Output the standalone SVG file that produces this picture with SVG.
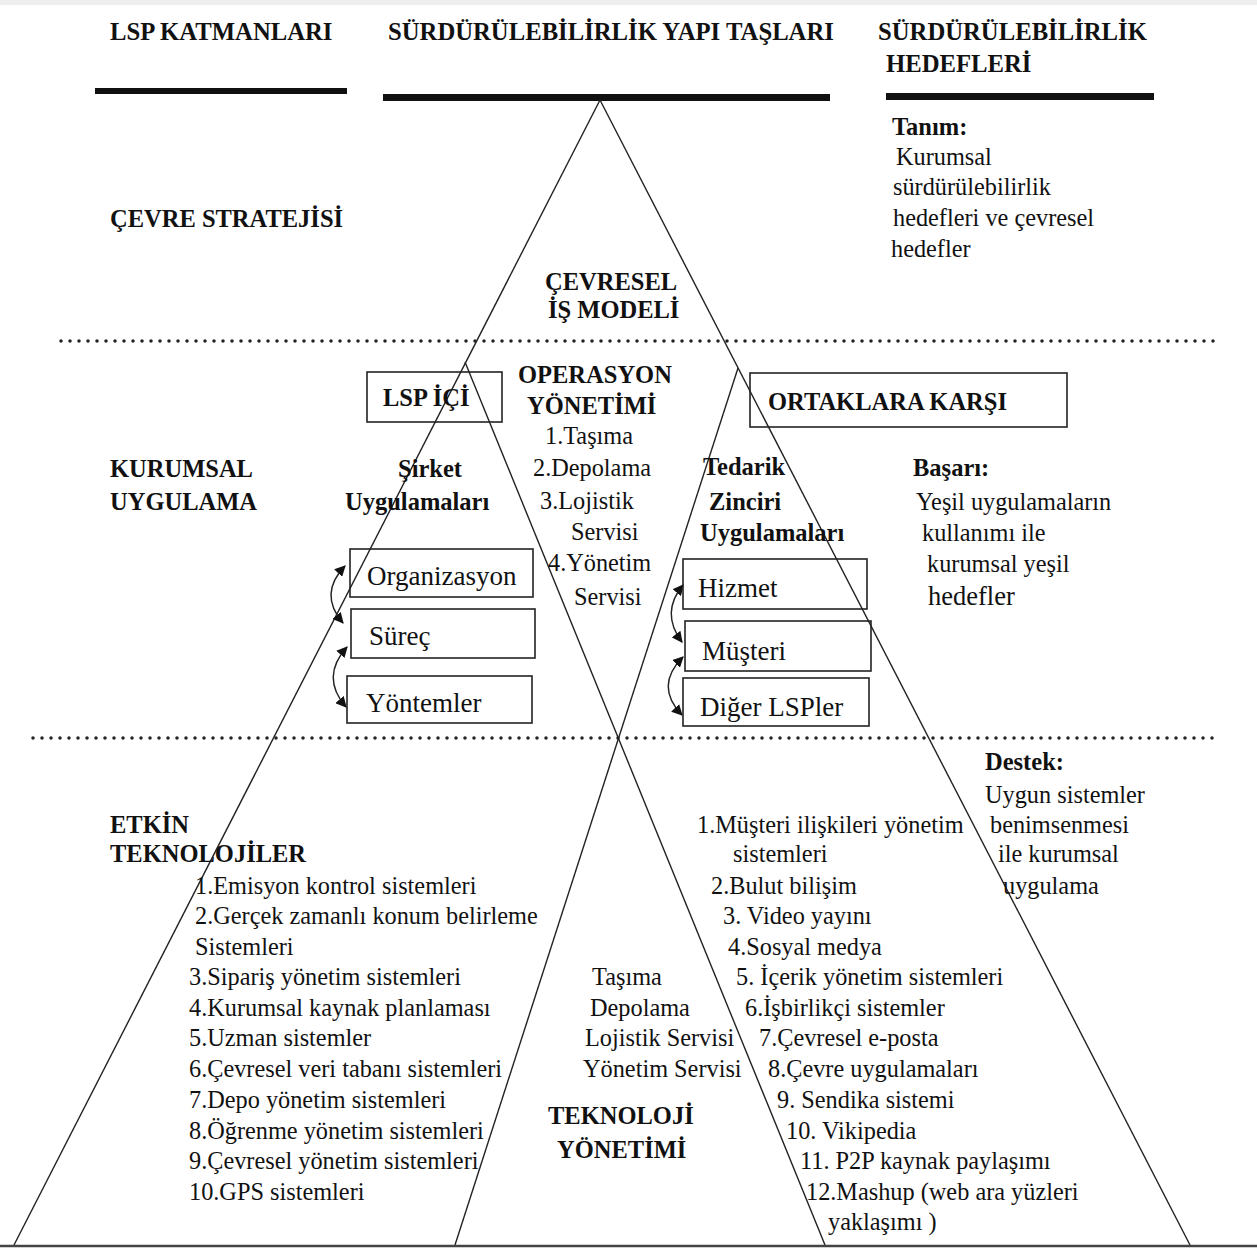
<svg xmlns="http://www.w3.org/2000/svg" width="1257" height="1249" viewBox="0 0 1257 1249">
  <style>
    text { font-family: "Liberation Serif", "Times New Roman", serif; fill: #111; }
    .h { font-size: 24.7px; font-weight: bold; }
    .b { font-size: 24.5px; font-weight: bold; }
    .t { font-size: 24.3px; }
    .bx { font-size: 27px; }
    .edge { stroke: #222; stroke-width: 1.4; fill: none; }
    .box { stroke: #222; stroke-width: 1.6; fill: none; }
    .bar { fill: #111; }
    .dots { stroke: #222; stroke-width: 3.5; stroke-linecap: round; stroke-dasharray: 0 9; fill: none; }
    .arc { stroke: #222; stroke-width: 1.4; fill: none; marker-start: url(#head); marker-end: url(#head); }
  </style>
  <defs>
    <marker id="head" viewBox="0 0 10 10" refX="9" refY="5" markerWidth="11" markerHeight="11" markerUnits="userSpaceOnUse" orient="auto-start-reverse">
      <path d="M0,0 L10,5 L0,10 z" fill="#111"/>
    </marker>
  </defs>

  <rect x="0" y="0" width="1257" height="1249" fill="#fff"/>
  <rect x="0" y="0" width="1257" height="5" fill="#eee"/>

  <!-- column headings -->
  <g id="headings">
    <text class="h" x="110" y="40">LSP KATMANLARI</text>
    <text class="h" x="388" y="40">SÜRDÜRÜLEBİLİRLİK YAPI TAŞLARI</text>
    <text class="h" x="878" y="40">SÜRDÜRÜLEBİLİRLİK</text>
    <text class="h" x="886" y="72">HEDEFLERİ</text>
    <rect class="bar" x="95" y="88" width="252" height="6"/>
    <rect class="bar" x="383" y="94" width="447" height="7"/>
    <rect class="bar" x="886" y="93" width="268" height="7"/>
  </g>

  <!-- layer separators, pyramid edges and the two-way arrows -->
  <g id="connectors">
    <line class="dots" x1="61" y1="341" x2="1218" y2="341"/>
    <line class="dots" x1="33" y1="738" x2="1218" y2="738"/>
    <line class="edge" x1="600" y1="100" x2="14" y2="1245"/>
    <line class="edge" x1="600" y1="100" x2="1190" y2="1245"/>
    <line class="edge" x1="465" y1="362" x2="825" y2="1245"/>
    <line class="edge" x1="738" y1="368" x2="455" y2="1245"/>
    <line x1="0" y1="1246" x2="1257" y2="1246" stroke="#444" stroke-width="2.5"/>
    <path class="arc" d="M343,623 Q318,594 345,566"/>
    <path class="arc" d="M346,707 Q320,677 347,647"/>
    <path class="arc" d="M682,642 Q660,613 683,585"/>
    <path class="arc" d="M682,715 Q654,686 683,657"/>
  </g>

  <!-- strategy layer -->
  <g id="cevre-stratejisi">
    <text class="b" x="110" y="227">ÇEVRE STRATEJİSİ</text>
  </g>
  <g id="cevresel-is-modeli">
    <text class="b" x="545" y="290">ÇEVRESEL</text>
    <text class="b" x="548" y="318">İŞ MODELİ</text>
  </g>
  <g id="tanim">
    <text class="b" x="892" y="135">Tanım:</text>
    <text class="t" x="896" y="165">Kurumsal</text>
    <text class="t" x="893" y="195">sürdürülebilirlik</text>
    <text class="t" x="893" y="226">hedefleri ve çevresel</text>
    <text class="t" x="891" y="257">hedefler</text>
  </g>

  <!-- corporate application layer -->
  <g id="kurumsal-uygulama">
    <text class="b" x="110" y="477">KURUMSAL</text>
    <text class="b" x="110" y="510">UYGULAMA</text>
  </g>
  <g id="lsp-ici">
    <rect class="box" x="367" y="372" width="135" height="50"/>
    <text class="b" x="383" y="406">LSP İÇİ</text>
  </g>
  <g id="operasyon-yonetimi">
    <text class="b" x="518" y="383">OPERASYON</text>
    <text class="b" x="527" y="414">YÖNETİMİ</text>
    <text class="t" x="545" y="444">1.Taşıma</text>
    <text class="t" x="533" y="476">2.Depolama</text>
    <text class="t" x="540" y="509">3.Lojistik</text>
    <text class="t" x="571" y="540">Servisi</text>
    <text class="t" x="548" y="571">4.Yönetim</text>
    <text class="t" x="574" y="605">Servisi</text>
  </g>
  <g id="ortaklara-karsi">
    <rect class="box" x="750" y="373" width="317" height="54"/>
    <text class="b" x="768" y="410">ORTAKLARA KARŞI</text>
  </g>
  <g id="sirket-uygulamalari">
    <text class="b" x="398" y="477">Şirket</text>
    <text class="b" x="345" y="510">Uygulamaları</text>
  </g>
  <g id="organizasyon">
    <rect class="box" x="350" y="549" width="183" height="48"/>
    <text class="bx" x="367" y="585">Organizasyon</text>
  </g>
  <g id="surec">
    <rect class="box" x="351" y="609" width="184" height="49"/>
    <text class="bx" x="369" y="645">Süreç</text>
  </g>
  <g id="yontemler">
    <rect class="box" x="347" y="676" width="185" height="47"/>
    <text class="bx" x="366" y="712">Yöntemler</text>
  </g>
  <g id="tedarik-zinciri">
    <text class="b" x="703" y="475">Tedarik</text>
    <text class="b" x="709" y="510">Zinciri</text>
    <text class="b" x="700" y="541">Uygulamaları</text>
  </g>
  <g id="hizmet">
    <rect class="box" x="683" y="559" width="184" height="50"/>
    <text class="bx" x="698" y="597">Hizmet</text>
  </g>
  <g id="musteri">
    <rect class="box" x="685" y="621" width="186" height="50"/>
    <text class="bx" x="702" y="660">Müşteri</text>
  </g>
  <g id="diger-lspler">
    <rect class="box" x="683" y="678" width="186" height="48"/>
    <text class="bx" x="700" y="716">Diğer LSPler</text>
  </g>
  <g id="basari">
    <text class="b" x="913" y="476">Başarı:</text>
    <text class="t" x="916" y="510">Yeşil uygulamaların</text>
    <text class="t" x="922" y="541">kullanımı ile</text>
    <text class="t" x="927" y="572">kurumsal yeşil</text>
    <text class="t" x="928" y="605" style="font-size:26.5px">hedefler</text>
  </g>

  <!-- enabling technologies layer -->
  <g id="etkin-teknolojiler">
    <text class="b" x="110" y="833">ETKİN</text>
    <text class="b" x="110" y="862">TEKNOLOJİLER</text>
  </g>
  <g id="destek">
    <text class="b" x="985" y="770">Destek:</text>
    <text class="t" x="985" y="803">Uygun sistemler</text>
    <text class="t" x="990" y="833">benimsenmesi</text>
    <text class="t" x="998" y="862">ile kurumsal</text>
    <text class="t" x="1003" y="894">uygulama</text>
  </g>
  <g id="sirket-teknolojileri">
    <text class="t" x="195" y="894">1.Emisyon kontrol sistemleri</text>
    <text class="t" x="195" y="924">2.Gerçek zamanlı konum belirleme</text>
    <text class="t" x="195" y="955">Sistemleri</text>
    <text class="t" x="189" y="985">3.Sipariş yönetim sistemleri</text>
    <text class="t" x="189" y="1016">4.Kurumsal kaynak planlaması</text>
    <text class="t" x="189" y="1046">5.Uzman sistemler</text>
    <text class="t" x="189" y="1077">6.Çevresel veri tabanı sistemleri</text>
    <text class="t" x="189" y="1108">7.Depo yönetim sistemleri</text>
    <text class="t" x="189" y="1139">8.Öğrenme yönetim sistemleri</text>
    <text class="t" x="189" y="1169">9.Çevresel yönetim sistemleri</text>
    <text class="t" x="189" y="1200">10.GPS sistemleri</text>
  </g>
  <g id="teknoloji-yonetimi">
    <text class="t" x="592" y="985">Taşıma</text>
    <text class="t" x="590" y="1016">Depolama</text>
    <text class="t" x="585" y="1046">Lojistik Servisi</text>
    <text class="t" x="583" y="1077">Yönetim Servisi</text>
    <text class="b" x="548" y="1124">TEKNOLOJİ</text>
    <text class="b" x="557" y="1158">YÖNETİMİ</text>
  </g>
  <g id="tedarik-teknolojileri">
    <text class="t" x="697" y="833">1.Müşteri ilişkileri yönetim</text>
    <text class="t" x="733" y="862">sistemleri</text>
    <text class="t" x="711" y="894">2.Bulut bilişim</text>
    <text class="t" x="723" y="924">3. Video yayını</text>
    <text class="t" x="728" y="955">4.Sosyal medya</text>
    <text class="t" x="736" y="985">5. İçerik yönetim sistemleri</text>
    <text class="t" x="745" y="1016">6.İşbirlikçi sistemler</text>
    <text class="t" x="759" y="1046">7.Çevresel e-posta</text>
    <text class="t" x="768" y="1077">8.Çevre uygulamaları</text>
    <text class="t" x="777" y="1108">9. Sendika sistemi</text>
    <text class="t" x="786" y="1139">10. Vikipedia</text>
    <text class="t" x="800" y="1169">11. P2P kaynak paylaşımı</text>
    <text class="t" x="806" y="1200">12.Mashup (web ara yüzleri</text>
    <text class="t" x="828" y="1230">yaklaşımı )</text>
  </g>
</svg>
